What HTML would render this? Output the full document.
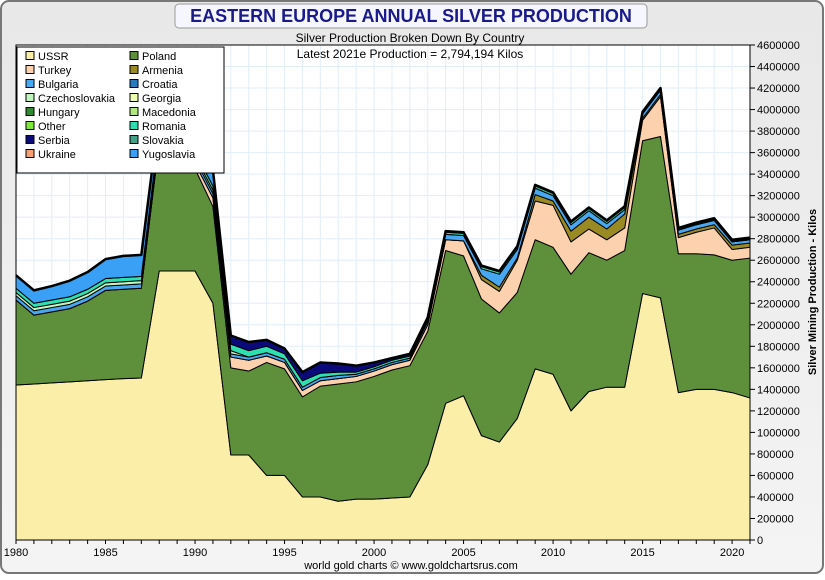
<!DOCTYPE html>
<html><head><meta charset="utf-8"><style>
body{margin:0;width:825px;height:575px;overflow:hidden;background:#fff;font-family:"Liberation Sans",sans-serif}
</style></head><body>
<svg id="c" width="825" height="575" xmlns="http://www.w3.org/2000/svg">
<defs><linearGradient id="bg" x1="0" y1="0" x2="0" y2="1"><stop offset="0" stop-color="#e8e8e8"/><stop offset="1" stop-color="#f4f4f4"/></linearGradient></defs>
<rect x="1" y="1" width="822" height="572" rx="8" fill="url(#bg)" stroke="#777" stroke-width="2"/>
<rect x="175" y="4" width="472" height="24" rx="4" fill="#f6f6ff" stroke="#999"/>
<text x="411" y="22" text-anchor="middle" font-size="18" font-weight="bold" fill="#1a1a8c">EASTERN EUROPE ANNUAL SILVER PRODUCTION</text>
<rect x="16" y="45" width="734" height="495" fill="#fff"/>
<g id="grid"></g><g id="areas"></g><g id="axes"></g>
<text x="410" y="42" text-anchor="middle" font-size="12" fill="#000">Silver Production Broken Down By Country</text>
<text x="410" y="58" text-anchor="middle" font-size="12" fill="#000">Latest 2021e Production = 2,794,194 Kilos</text>
<text transform="translate(816,292) rotate(-90)" text-anchor="middle" font-size="11" font-weight="bold" fill="#000">Silver Mining Production - Kilos</text>
<text x="411" y="569" text-anchor="middle" font-size="11" fill="#000">world gold charts © www.goldchartsrus.com</text>
<g id="legend"></g>
</svg>
<script>
const years=[];for(let y=1980;y<=2021;y++)years.push(y);
const ussr=[1440,1450,1460,1470,1480,1490,1500,1505,2500,2500,2500,2200,790,790,600,600,400,400,360,380,380,390,400,700,1270,1340,970,910,1130,1590,1540,1200,1380,1420,1420,2290,2250,1370,1400,1400,1370,1320];
const poland=[790,640,660,680,740,830,830,835,1200,1150,950,900,810,780,1050,990,930,1030,1090,1090,1140,1190,1220,1240,1420,1300,1270,1200,1170,1200,1180,1270,1290,1180,1270,1420,1500,1290,1260,1250,1230,1300];
const turkey=[0,0,0,0,0,0,0,0,0,0,50,80,100,100,60,60,60,50,50,50,50,50,50,60,100,140,180,200,300,360,390,300,220,190,210,190,370,150,200,250,100,100];
const armenia=[0,0,0,0,0,0,0,0,0,0,0,0,0,0,0,0,0,0,0,0,0,0,0,0,0,0,40,40,20,60,40,100,110,100,130,20,20,30,30,30,40,40];
const bulgaria=[40,40,40,40,40,40,40,40,40,40,40,40,30,30,30,30,30,30,30,20,20,20,20,30,50,50,60,120,80,60,50,60,60,50,40,40,40,40,40,40,30,30];
const czech=[30,30,30,30,30,30,30,30,30,30,30,30,30,0,0,0,0,0,0,0,0,0,0,0,0,0,0,0,0,0,0,0,0,0,0,0,0,0,0,0,0,0];
const romania=[40,40,40,40,40,40,40,40,40,40,40,40,60,60,60,50,60,40,30,20,20,20,20,20,20,20,20,20,20,20,20,20,20,20,20,10,10,10,10,10,10,10];
const serbia=[0,0,0,0,0,0,0,0,0,0,0,0,80,80,60,50,80,100,80,60,40,20,20,20,10,10,10,10,10,10,10,10,10,10,10,10,10,10,10,10,10,10];
const yugoslavia=[120,120,130,150,160,180,200,200,150,150,150,150,0,0,0,0,0,0,0,0,0,0,0,0,0,0,0,0,0,0,0,0,0,0,0,0,0,0,0,0,0,0];
const yTicks=[];for(let v=0;v<=4600000;v+=200000)yTicks.push(v);
const xTicks=[1980,1985,1990,1995,2000,2005,2010,2015,2020];
const series=[["ussr",ussr,"#fbeea8"],["poland",poland,"#5e8f3a"],["turkey",turkey,"#fcd1ad"],["armenia",armenia,"#9a8a24"],["bulgaria",bulgaria,"#47a7f0"],["czechoslovakia",czech,"#c0f5c0"],["romania",romania,"#2ee0b0"],["serbia",serbia,"#0a0a7a"],["yugoslavia",yugoslavia,"#39a0f5"]];
const X=y=>16+(y-1980)*(734/41), Y=v=>540-v/4600000*495;
const NS="http://www.w3.org/2000/svg";
function mk(t,a,p){const e=document.createElementNS(NS,t);for(const k in a)e.setAttribute(k,a[k]);p.appendChild(e);return e;}
const grid=document.getElementById('grid'),areas=document.getElementById('areas'),axes=document.getElementById('axes');
for(let y=1980;y<=2021;y++){const l=mk('line',{x1:X(y),x2:X(y),y1:45,y2:540,stroke:'#e2eef8','stroke-width':1},grid);}
yTicks.forEach(v=>{const l=mk('line',{x1:16,x2:750,y1:Y(v),y2:Y(v),stroke:'#e2eef8','stroke-width':1},grid);});
let base=years.map(()=>0);
series.forEach(([name,vals,col])=>{
  const top=base.map((b,i)=>b+vals[i]*1000);
  let d='M'+years.map((y,i)=>X(y)+','+Y(top[i])).join(' L');
  d+=' L'+years.slice().reverse().map((y,j)=>{const i=years.length-1-j;return X(y)+','+Y(base[i]);}).join(' L')+'Z';
  const p=mk('path',{d:d,fill:col,stroke:'#000','stroke-width':1,'stroke-linejoin':'round'},areas);
  
  base=top;
});
const tl=mk('polyline',{points:years.map((y,i)=>X(y)+','+Y(base[i])).join(' '),fill:'none',stroke:'#000','stroke-width':2.5,'stroke-linejoin':'round'},areas);

mk('rect',{x:16,y:45,width:734,height:495,fill:'none',stroke:'#000'},axes);
yTicks.forEach(v=>{mk('line',{x1:750,x2:755,y1:Y(v),y2:Y(v),stroke:'#000'},axes);
  const t=mk('text',{x:757,y:Y(v)+4,'font-size':11,fill:'#000'},axes);t.textContent=String(v);
  });
for(let y=1980;y<=2021;y++)mk('line',{x1:X(y),x2:X(y),y1:540,y2:544,stroke:'#000'},axes);
xTicks.forEach(y=>{const t=mk('text',{x:X(y),y:556,'font-size':11,'text-anchor':'middle',fill:'#000'},axes);t.textContent=y;
  });
const lg=document.getElementById('legend');
const lb=mk('rect',{x:17,y:47,width:207,height:126,fill:'#fff',stroke:'#000'},lg);

const legendItems=[["USSR","#fbeea8"],["Turkey","#fcd1ad"],["Bulgaria","#47a7f0"],["Czechoslovakia","#c0f5c0"],["Hungary","#2f8a2f"],["Other","#7ee83a"],["Serbia","#0a0a7a"],["Ukraine","#f5a070"],["Poland","#5e8f3a"],["Armenia","#9a8a24"],["Croatia","#2a7ac0"],["Georgia","#eeffb0"],["Macedonia","#b0e880"],["Romania","#2ee0b0"],["Slovakia","#40a088"],["Yugoslavia","#39a0f5"]];
legendItems.forEach(([n,c],i)=>{const col=Math.floor(i/8),row=i%8;const x=26+col*104,y=56+row*14;
  const g=mk('g',{},lg);
  mk('rect',{x:x,y:y-4.5,width:8,height:8,fill:c,stroke:'#000'},g);
  const t=mk('text',{x:x+12,y:y+4,'font-size':11,fill:'#000'},g);t.textContent=n;});
</script>
</body></html>
